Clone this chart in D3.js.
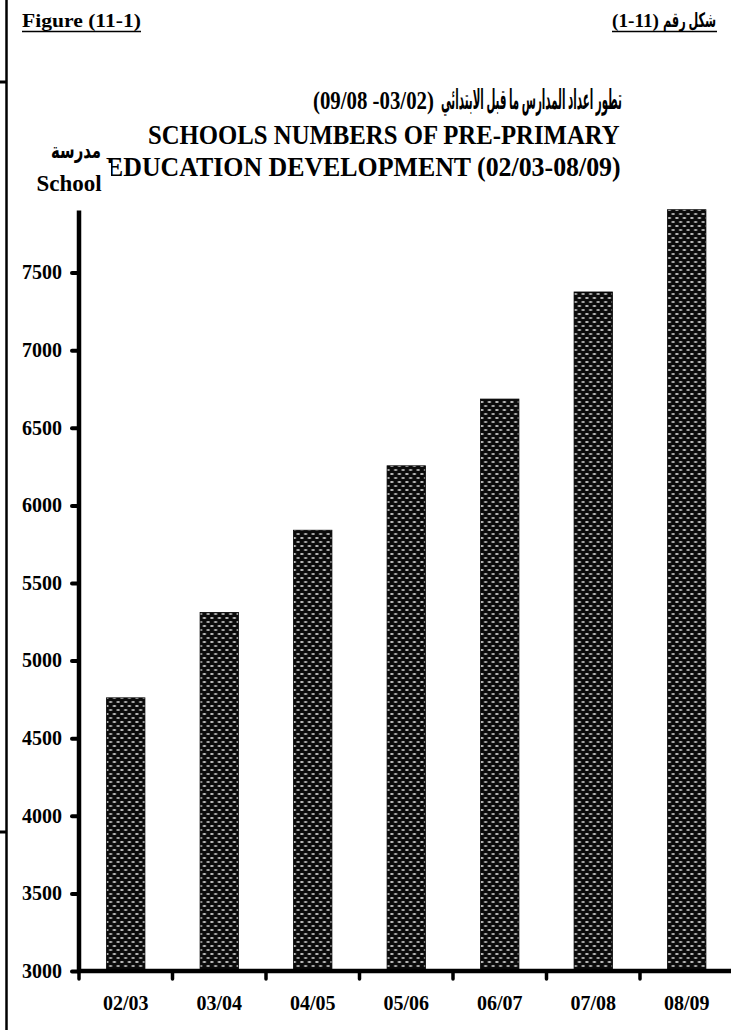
<!DOCTYPE html>
<html>
<head>
<meta charset="utf-8">
<script src="https://cdn.jsdelivr.net/npm/d3@7"></script>
<style>
  html, body { margin: 0; padding: 0; background: #fff; }
  svg { display: block; }
  text { font-family: "Liberation Serif", "DejaVu Sans", serif; font-weight: bold; fill: #000; }
</style>
</head>
<body>
<svg id="chart" width="731" height="1030"></svg>
<script>
// ---- data ----
const categories = ["02/03", "03/04", "04/05", "05/06", "06/07", "07/08", "08/09"];
const values = [4760, 5310, 5840, 6255, 6685, 7375, 7905];
const yTickValues = [3000, 3500, 4000, 4500, 5000, 5500, 6000, 6500, 7000, 7500];
const titleArabicWords = "تطور اعداد المدارس ما قبل الابتدائي";
const titleArabicYears = "(09/08 -03/02)";
const titleLine1 = "SCHOOLS NUMBERS OF PRE-PRIMARY";
const titleLine2 = "EDUCATION DEVELOPMENT (02/03-08/09)";
const headerLeft = "Figure (11-1)";
const headerRightWords = "شكل رقم";
const headerRightNumber = "(1-11)";
const unitArabic = "مدرسة";
const unitEnglish = "School";

const svg = d3.select("#chart");

// place a text so that it fills [x0, x1] horizontally at baseline y (scaled horizontally only)
function fitText(str, x0, x1, yBase, size) {
  const g = svg.append("g");
  const t = g.append("text").attr("x", 0).attr("y", 0).attr("font-size", size).text(str);
  const w = t.node().getComputedTextLength();
  const s = (x1 - x0) / w;
  g.attr("transform", `translate(${x0},${yBase}) scale(${s},1)`);
  return t;
}

// pattern for bars
const defs = svg.append("defs");
const pat = defs.append("pattern")
  .attr("id", "dots").attr("patternUnits", "userSpaceOnUse")
  .attr("width", 7.5).attr("height", 8);
pat.append("rect").attr("width", 7.5).attr("height", 8).attr("fill", "#0b0b0b");
pat.append("ellipse").attr("cx", 1.9).attr("cy", 2).attr("rx", 1.8).attr("ry", 1.05).attr("fill", "#c8c8c8");
pat.append("ellipse").attr("cx", 5.65).attr("cy", 6).attr("rx", 1.8).attr("ry", 1.05).attr("fill", "#b4b4b4");

// frame lines at left edge
svg.append("line").attr("x1", 6.5).attr("x2", 6.5).attr("y1", 0).attr("y2", 1030)
  .attr("stroke", "#000").attr("stroke-width", 2.5);
svg.append("line").attr("x1", 0).attr("x2", 6).attr("y1", 82).attr("y2", 82)
  .attr("stroke", "#000").attr("stroke-width", 3);
svg.append("line").attr("x1", 0).attr("x2", 6).attr("y1", 832).attr("y2", 832)
  .attr("stroke", "#000").attr("stroke-width", 3);

// headers
fitText(headerLeft, 22, 141, 27, 19);
svg.append("line").attr("x1", 22).attr("x2", 141).attr("y1", 31.5).attr("y2", 31.5)
  .attr("stroke", "#000").attr("stroke-width", 1.5);
fitText(headerRightWords, 663, 716, 27, 20);
fitText(headerRightNumber, 612, 659, 27, 19);
svg.append("line").attr("x1", 612).attr("x2", 717).attr("y1", 31.5).attr("y2", 31.5)
  .attr("stroke", "#000").attr("stroke-width", 1.5);

// titles
fitText(titleArabicWords, 441, 622, 109, 28);
fitText(titleArabicYears, 313, 434, 109, 25);
fitText(titleLine1, 148, 620, 144, 28);
fitText(titleLine2, 106, 621, 176, 28);

// unit labels (white box hides start of title line)
svg.append("rect").attr("x", 30).attr("y", 163).attr("width", 81).attr("height", 32).attr("fill", "#fff");
fitText(unitArabic, 51, 101, 158, 22);
svg.append("text").attr("x", 69).attr("y", 191).attr("font-size", 23)
  .attr("text-anchor", "middle").text(unitEnglish);

// scales
const x = d3.scaleBand().domain(categories).range([79, 733.5])
  .paddingInner(0.59).paddingOuter(0.295);
const y = d3.scaleLinear().domain([3000, 7900]).range([971, 210.5]);

// bars
svg.append("g").selectAll("rect").data(categories).join("rect")
  .attr("x", d => x(d))
  .attr("width", x.bandwidth())
  .attr("y", (d, i) => y(values[i]))
  .attr("height", (d, i) => y(3000) - y(values[i]))
  .attr("fill", "url(#dots)")
  .attr("stroke", "#000").attr("stroke-width", 0.8);

// x axis
const xAxis = svg.append("g").attr("transform", "translate(0,971)")
  .call(d3.axisBottom(x).tickSize(8).tickSizeOuter(0).tickPadding(17));
xAxis.select(".domain").attr("d", "M77,0H731").attr("stroke", "#000").attr("stroke-width", 4.5);
xAxis.selectAll(".tick line")
  .attr("transform", `translate(${-x.step() / 2},0)`)
  .attr("y1", 2).attr("y2", 8)
  .attr("stroke", "#000").attr("stroke-width", 3.5).attr("stroke-linecap", "round");
xAxis.selectAll(".tick text").attr("font-size", 20)
  .attr("font-family", "Liberation Serif").attr("font-weight", "bold");

// y axis
const yAxis = svg.append("g").attr("transform", "translate(79,0)")
  .call(d3.axisLeft(y).tickValues(yTickValues).tickSize(7).tickSizeOuter(0).tickPadding(10)
    .tickFormat(d3.format("d")));
yAxis.select(".domain").attr("d", "M0,210.5V973").attr("stroke", "#000").attr("stroke-width", 4.5);
yAxis.selectAll(".tick line").attr("stroke", "#000").attr("stroke-width", 4).attr("stroke-linecap", "round");
yAxis.selectAll(".tick text").attr("font-size", 20)
  .attr("font-family", "Liberation Serif").attr("font-weight", "bold");
</script>
</body>
</html>
